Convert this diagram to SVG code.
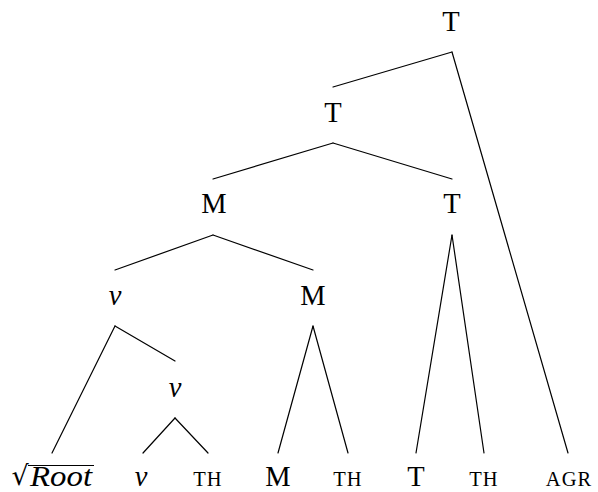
<svg xmlns="http://www.w3.org/2000/svg" width="598" height="492" viewBox="0 0 598 492">
  <style>
    text { font-family: "Liberation Serif", "DejaVu Serif", serif; font-size: 28.5px; fill: #000; text-anchor: middle; }
    .it { font-style: italic; }
    .sc { font-size: 20.5px; letter-spacing: 1px; }
    .rad { font-family: "DejaVu Serif", serif; font-size: 27px; }
    .edges line { stroke: #000; stroke-width: 1.2; stroke-linecap: round; }
  </style>

  <!-- tree edges -->
  <g id="edges" class="edges">
    <line x1="452" y1="52" x2="333" y2="87"/>
    <line x1="452" y1="52" x2="568" y2="453"/>
    <line x1="333" y1="143" x2="213" y2="179"/>
    <line x1="333" y1="143" x2="452" y2="179"/>
    <line x1="213" y1="235" x2="115" y2="270"/>
    <line x1="213" y1="235" x2="313" y2="270"/>
    <line x1="115" y1="326" x2="52" y2="453"/>
    <line x1="115" y1="326" x2="175" y2="361"/>
    <line x1="313" y1="326" x2="278" y2="453"/>
    <line x1="313" y1="326" x2="348" y2="453"/>
    <line x1="452" y1="235" x2="416" y2="453"/>
    <line x1="452" y1="235" x2="484" y2="453"/>
    <line x1="175" y1="418" x2="143" y2="453"/>
    <line x1="175" y1="418" x2="208" y2="453"/>
  </g>

  <!-- internal nodes -->
  <g id="n-T-top"><text x="451" y="31">T</text></g>
  <g id="n-T-2"><text x="333" y="122">T</text></g>
  <g id="n-M-3"><text x="214" y="213">M</text></g>
  <g id="n-T-3"><text x="452" y="213">T</text></g>
  <g id="n-v-4"><text class="it" x="115" y="305">v</text></g>
  <g id="n-M-4"><text x="313" y="305">M</text></g>
  <g id="n-v-5"><text class="it" x="175" y="397">v</text></g>

  <!-- leaves -->
  <g id="leaf-root">
    <text class="rad" x="20" y="485">√</text>
    <line x1="28" y1="465.5" x2="94" y2="465.5" stroke="#000" stroke-width="1.2"/>
    <text class="it" x="61" y="486" textLength="62" lengthAdjust="spacingAndGlyphs">Root</text>
  </g>
  <g id="leaf-v"><text class="it" x="141" y="486">v</text></g>
  <g id="leaf-th1"><text class="sc" x="208" y="486">TH</text></g>
  <g id="leaf-M"><text x="278" y="486">M</text></g>
  <g id="leaf-th2"><text class="sc" x="348" y="486">TH</text></g>
  <g id="leaf-T"><text x="416" y="486">T</text></g>
  <g id="leaf-th3"><text class="sc" x="484" y="486">TH</text></g>
  <g id="leaf-agr"><text class="sc" x="569" y="486">AGR</text></g>
</svg>
